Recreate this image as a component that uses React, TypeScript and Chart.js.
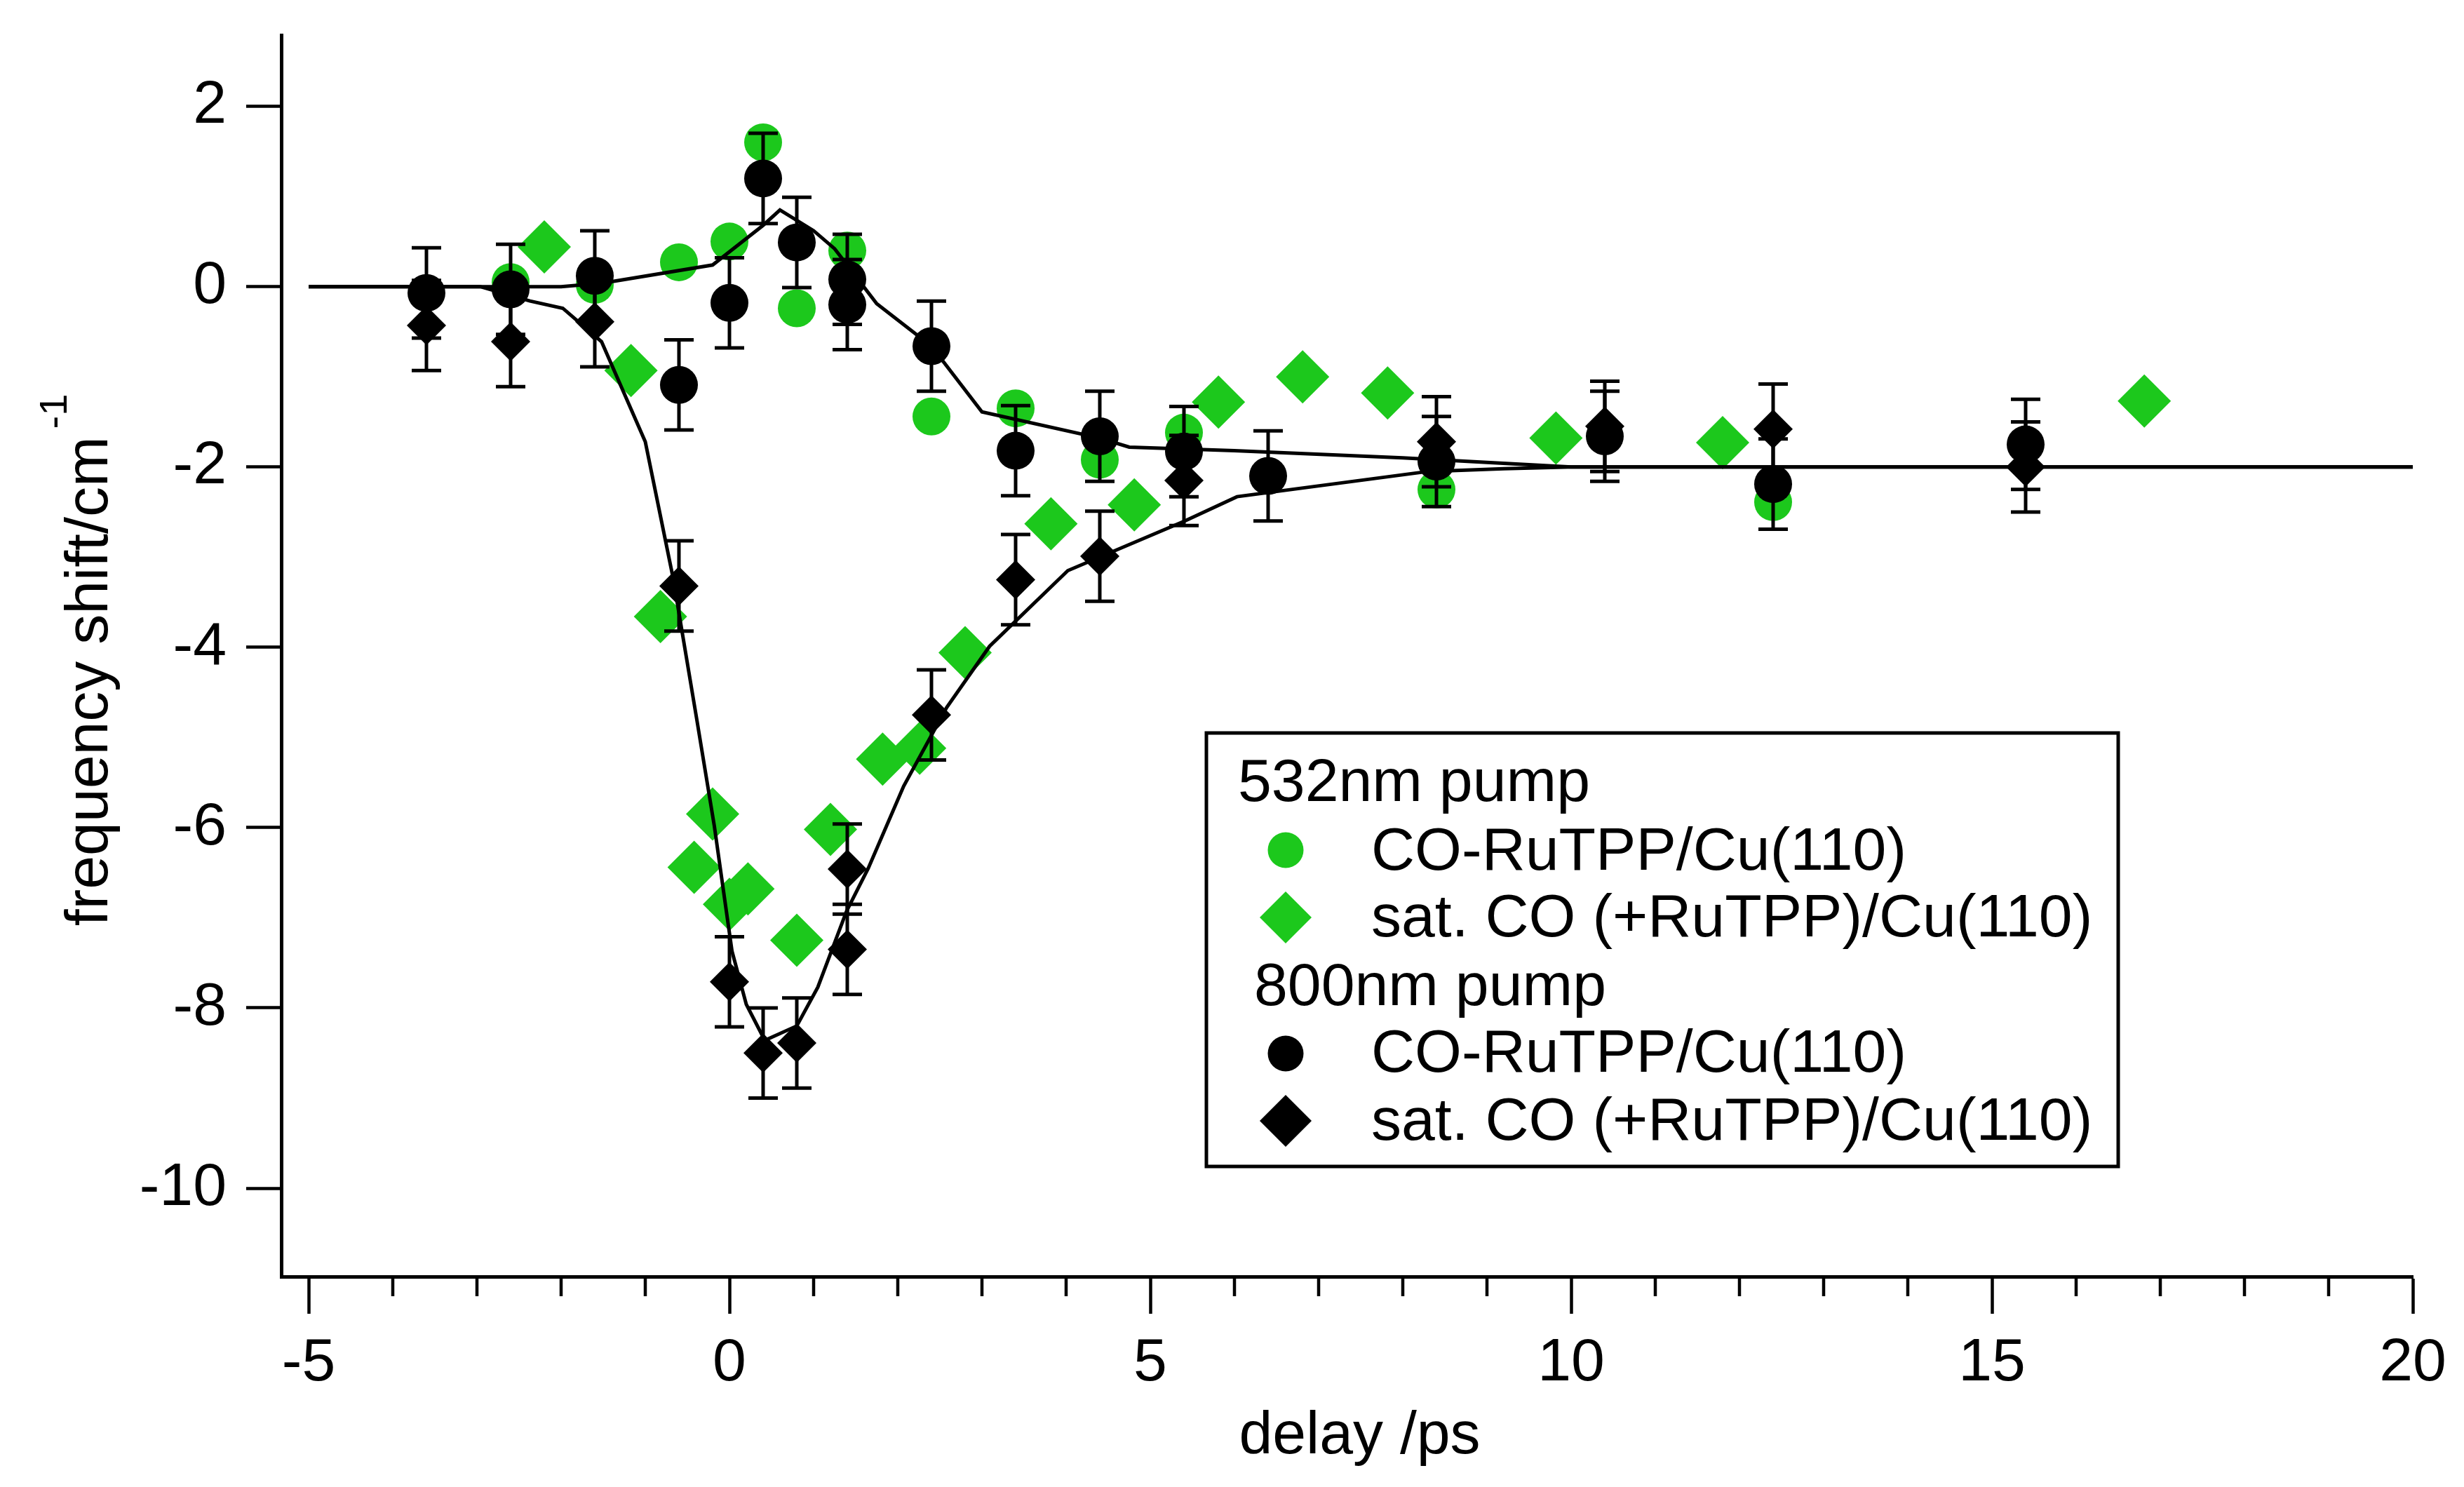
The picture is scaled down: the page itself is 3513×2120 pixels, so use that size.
import { useEffect, useRef } from "react";
import { Chart, registerables } from "chart.js";

Chart.register(...registerables);

const FONT = "'Liberation Sans', Arial, sans-serif";
const GREEN = "#1cc81c";

// 532nm pump, CO-RuTPP/Cu(110)
const greenCircleX = [-2.6, -1.6, -0.6, 0, 0.4, 0.8, 1.4, 2.4, 3.4, 4.4, 5.4, 8.4, 12.4];
const greenCircleY = [0.05, 0.02, 0.27, 0.5, 1.6, -0.24, 0.4, -1.44, -1.35, -1.92, -1.62, -2.25, -2.39];

// 532nm pump, sat. CO (+RuTPP)/Cu(110)
const greenDiamondX = [-2.2, -1.17, -0.82, -0.42, -0.2, 0, 0.22, 0.8, 1.2, 1.82, 2.26, 2.8, 3.82, 4.81, 5.81, 6.81, 7.82, 9.82, 11.8, 16.81];
const greenDiamondY = [0.44, -0.93, -3.66, -6.44, -5.85, -6.85, -6.68, -7.25, -6.02, -5.24, -5.12, -4.06, -2.63, -2.42, -1.28, -1.0, -1.18, -1.68, -1.73, -1.27];

// 800nm pump, CO-RuTPP/Cu(110)
const blackCircleX = [-3.6, -2.6, -1.6, -0.6, 0, 0.4, 0.8, 1.4, 1.4, 2.4, 3.4, 4.4, 5.4, 6.4, 8.4, 10.4, 12.4, 15.4];
const blackCircleY = [-0.07, -0.03, 0.12, -1.09, -0.18, 1.2, 0.49, 0.08, -0.2, -0.66, -1.82, -1.66, -1.83, -2.1, -1.94, -1.66, -2.19, -1.75];

// 800nm pump, sat. CO (+RuTPP)/Cu(110)
const blackDiamondX = [-3.6, -2.6, -1.6, -0.6, 0, 0.4, 0.8, 1.4, 1.4, 2.4, 3.4, 4.4, 5.4, 8.4, 10.4, 12.4, 15.4];
const blackDiamondY = [-0.43, -0.61, -0.39, -3.32, -7.71, -8.5, -8.39, -6.46, -7.35, -4.75, -3.25, -2.99, -2.15, -1.72, -1.55, -1.58, -2.0];

// error of the 800nm data (+/-)
const blackError = 0.5;

// fit curves
const fitCircleX = [-5, -2, -1.5, -0.2, 0.4, 0.6, 1.0, 1.25, 1.75, 2.4, 3.0, 4.4, 4.75, 6.0, 8.0, 10, 20];
const fitCircleY = [0, 0, 0.04, 0.24, 0.68, 0.85, 0.62, 0.42, -0.19, -0.66, -1.39, -1.68, -1.78, -1.82, -1.9, -2, -2];
const fitDiamondX = [-5, -2.96, -2.37, -1.98, -1.52, -1.0, -0.67, -0.39, -0.18, 0.03, 0.2, 0.42, 0.8, 1.05, 1.39, 1.65, 2.07, 2.58, 3.09, 4.02, 5.41, 6.03, 8.3, 9.2, 10, 20];
const fitDiamondY = [0, 0, -0.16, -0.24, -0.61, -1.72, -3.23, -4.79, -5.98, -7.37, -7.96, -8.36, -8.2, -7.77, -6.93, -6.45, -5.54, -4.67, -3.99, -3.15, -2.6, -2.33, -2.05, -2.02, -2, -2];

// axes
const xMajorTicks = [-5, 0, 5, 10, 15, 20];
const xMinorTicks = [-4, -3, -2, -1, 1, 2, 3, 4, 6, 7, 8, 9, 11, 12, 13, 14, 16, 17, 18, 19];
const yTicks = [2, 0, -2, -4, -6, -8, -10];
const xTitle = "delay /ps";
const yTitle = "frequency shift/cm";
const yTitleSup = "-1";

// legend
const legendHeaders = ["532nm pump", "800nm pump"];
const legendLabels = ["CO-RuTPP/Cu(110)", "sat. CO (+RuTPP)/Cu(110)"];

const toPoints = (xs: number[], ys: number[]) => xs.map((x, i) => ({ x, y: ys[i] }));

const errorBarPlugin = {
  id: "errorBars",
  afterDatasetsDraw(chart: any) {
    const { ctx } = chart;
    const xs = chart.scales.x;
    const ys = chart.scales.y;
    ctx.save();
    ctx.strokeStyle = "#000";
    ctx.lineWidth = 5;
    chart.data.datasets.forEach((ds: any) => {
      if (!ds.errorBar) return;
      ds.data.forEach((p: any) => {
        const px = xs.getPixelForValue(p.x);
        const top = ys.getPixelForValue(p.y + ds.errorBar);
        const bot = ys.getPixelForValue(p.y - ds.errorBar);
        ctx.beginPath();
        ctx.moveTo(px, top);
        ctx.lineTo(px, bot);
        ctx.moveTo(px - 21, top);
        ctx.lineTo(px + 21, top);
        ctx.moveTo(px - 21, bot);
        ctx.lineTo(px + 21, bot);
        ctx.stroke();
      });
    });
    ctx.restore();
  },
};

const decorPlugin = {
  id: "decor",
  afterDraw(chart: any) {
    const { ctx, chartArea } = chart;
    const xs = chart.scales.x;
    ctx.save();

    // minor ticks on the x axis
    ctx.strokeStyle = "#000";
    ctx.lineWidth = 4.5;
    ctx.beginPath();
    xMinorTicks.forEach((v) => {
      const px = xs.getPixelForValue(v);
      ctx.moveTo(px, chartArea.bottom);
      ctx.lineTo(px, chartArea.bottom + 28);
    });
    ctx.stroke();

    // axis titles
    ctx.fillStyle = "#000";
    ctx.textBaseline = "alphabetic";
    ctx.font = `86px ${FONT}`;
    ctx.textAlign = "center";
    ctx.fillText(xTitle, (chartArea.left + chartArea.right) / 2 + 18, chartArea.bottom + 252);

    ctx.textAlign = "left";
    const mainW = ctx.measureText(yTitle).width;
    ctx.font = `56px ${FONT}`;
    const supW = ctx.measureText(yTitleSup).width;
    const total = mainW + 11 + supW;
    const cy = (chartArea.top + chartArea.bottom) / 2 + 6;
    ctx.translate(153, cy + total / 2);
    ctx.rotate(-Math.PI / 2);
    ctx.font = `86px ${FONT}`;
    ctx.fillText(yTitle, 0, 0);
    ctx.font = `56px ${FONT}`;
    ctx.fillText(yTitleSup, mainW + 11, -58);
    ctx.restore();

    // legend box
    ctx.save();
    const bx = chartArea.left + 1319;
    const by = chartArea.top + 995;
    ctx.fillStyle = "#fff";
    ctx.fillRect(bx, by, 1300, 618);
    ctx.strokeStyle = "#000";
    ctx.lineWidth = 5;
    ctx.strokeRect(bx, by, 1300, 618);

    ctx.fillStyle = "#000";
    ctx.font = `86px ${FONT}`;
    ctx.textAlign = "left";
    ctx.textBaseline = "alphabetic";
    const rows = [
      { kind: "header", text: legendHeaders[0], x: bx + 45, y: by + 97 },
      { kind: "circle", color: GREEN, text: legendLabels[0], y: by + 195, my: by + 167 },
      { kind: "diamond", color: GREEN, text: legendLabels[1], y: by + 290, my: by + 263 },
      { kind: "header", text: legendHeaders[1], x: bx + 68, y: by + 388 },
      { kind: "circle", color: "#000", text: legendLabels[0], y: by + 483, my: by + 457 },
      { kind: "diamond", color: "#000", text: legendLabels[1], y: by + 580, my: by + 553 },
    ];
    rows.forEach((r: any) => {
      if (r.kind === "header") {
        ctx.fillStyle = "#000";
        ctx.fillText(r.text, r.x, r.y);
        return;
      }
      const mx = bx + 113;
      ctx.fillStyle = r.color;
      ctx.beginPath();
      if (r.kind === "circle") {
        ctx.arc(mx, r.my, 25.5, 0, Math.PI * 2);
      } else {
        ctx.moveTo(mx - 37, r.my);
        ctx.lineTo(mx, r.my - 37);
        ctx.lineTo(mx + 37, r.my);
        ctx.lineTo(mx, r.my + 37);
        ctx.closePath();
      }
      ctx.fill();
      ctx.fillStyle = "#000";
      ctx.fillText(r.text, bx + 235, r.y);
    });
    ctx.restore();
  },
};

function FrequencyShiftChart() {
  const canvasRef = useRef<HTMLCanvasElement>(null);

  useEffect(() => {
    if (!canvasRef.current) return;
    const chart = new Chart(canvasRef.current, {
      type: "scatter",
      data: {
        datasets: [
          {
            label: "800nm CO-RuTPP/Cu(110)",
            data: toPoints(blackCircleX, blackCircleY),
            pointStyle: "circle",
            pointRadius: 27,
            backgroundColor: "#000",
            borderWidth: 0,
            errorBar: blackError,
          } as any,
          {
            label: "800nm sat. CO (+RuTPP)/Cu(110)",
            data: toPoints(blackDiamondX, blackDiamondY),
            pointStyle: "rectRot",
            pointRadius: 28,
            backgroundColor: "#000",
            borderWidth: 0,
            errorBar: blackError,
          } as any,
          {
            label: "fit CO-RuTPP",
            data: toPoints(fitCircleX, fitCircleY),
            showLine: true,
            pointRadius: 0,
            borderColor: "#000",
            borderWidth: 5,
            tension: 0,
          },
          {
            label: "fit sat. CO",
            data: toPoints(fitDiamondX, fitDiamondY),
            showLine: true,
            pointRadius: 0,
            borderColor: "#000",
            borderWidth: 5,
            tension: 0,
          },
          {
            label: "532nm CO-RuTPP/Cu(110)",
            data: toPoints(greenCircleX, greenCircleY),
            pointStyle: "circle",
            pointRadius: 27,
            backgroundColor: GREEN,
            borderWidth: 0,
          },
          {
            label: "532nm sat. CO (+RuTPP)/Cu(110)",
            data: toPoints(greenDiamondX, greenDiamondY),
            pointStyle: "rectRot",
            pointRadius: 38,
            backgroundColor: GREEN,
            borderWidth: 0,
          },
        ],
      },
      options: {
        responsive: true,
        maintainAspectRatio: false,
        animation: false,
        events: [],
        layout: { padding: { left: 0, right: 73, top: 50, bottom: 0 } },
        plugins: { legend: { display: false }, tooltip: { enabled: false } },
        scales: {
          x: {
            type: "linear",
            min: -5.325,
            max: 20,
            afterBuildTicks: (s: any) => {
              s.ticks = xMajorTicks.map((v) => ({ value: v }));
            },
            afterFit: (s: any) => {
              s.height = 300;
              s.paddingLeft = 0;
              s.paddingRight = 0;
            },
            ticks: {
              color: "#000",
              font: { family: FONT, size: 86 },
              padding: 20,
              maxRotation: 0,
              autoSkip: false,
              callback: (v: any) => String(v),
            },
            grid: {
              drawOnChartArea: false,
              drawTicks: true,
              tickLength: 53,
              tickWidth: 4.5,
              tickColor: "#000",
            },
            border: { display: true, color: "#000", width: 5 },
          },
          y: {
            type: "linear",
            min: -10.98,
            max: 2.79,
            afterBuildTicks: (s: any) => {
              s.ticks = yTicks.map((v) => ({ value: v }));
            },
            afterFit: (s: any) => {
              s.width = 401;
              s.paddingTop = 0;
              s.paddingBottom = 0;
            },
            ticks: {
              color: "#000",
              font: { family: FONT, size: 86 },
              padding: 28,
              autoSkip: false,
              callback: (v: any) => String(v),
            },
            grid: {
              drawOnChartArea: false,
              drawTicks: true,
              tickLength: 50,
              tickWidth: 4.5,
              tickColor: "#000",
            },
            border: { display: true, color: "#000", width: 5 },
          },
        },
      },
      plugins: [errorBarPlugin, decorPlugin],
    });
    return () => chart.destroy();
  }, []);

  return (
    <div style={{ position: "relative", width: 3513, height: 2120, background: "#fff" }}>
      <canvas ref={canvasRef} />
    </div>
  );
}

export default function App() {
  useEffect(() => {
    document.body.style.margin = "0";
    document.body.style.overflow = "hidden";
    document.body.style.background = "#fff";
  }, []);
  return <FrequencyShiftChart />;
}
